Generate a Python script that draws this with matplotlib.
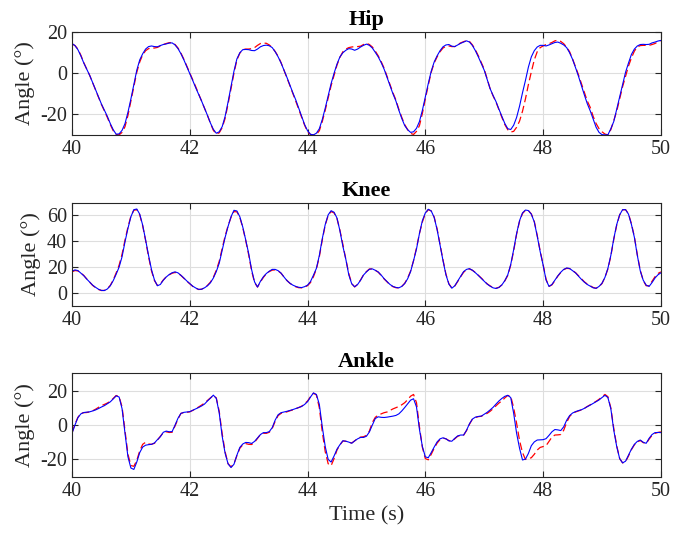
import numpy as np
import matplotlib
matplotlib.use("Agg")
import matplotlib.pyplot as plt

plt.rcParams["font.family"] = ["Liberation Serif", "DejaVu Serif"]
plt.rcParams["axes.unicode_minus"] = False

# joint angles (deg), sampled every 0.05 s from 40 s to 50 s
hip_measured = [
    14.5, 13.5, 11.5, 8.5, 5, 2, -1, -4.5, -8, -11.5,
    -15, -18, -21, -24.5, -27.5, -29.7, -29.5, -27.8, -24.5, -19,
    -12.5, -5.5, 1.5, 6.5, 9.5, 11.8, 13, 13.3, 13, 12.9,
    13.5, 14, 14.3, 14.7, 14.8, 13.8, 12, 9.5, 6.5, 3.2,
    0, -3.5, -7, -10.2, -13.5, -17, -20.5, -24.2, -27.3, -29.2,
    -28.5, -26, -21, -14, -6.5, 1, 7, 10, 11.5, 11.6,
    11.5, 11.1, 11, 11.8, 12.9, 13.5, 13.7, 13.4, 12.5, 10.5,
    8, 5, 1.5, -2, -5.8, -9.5, -13, -17, -21, -25,
    -28, -29.7, -30, -29.2, -27, -22.5, -17, -11, -5, 0,
    4.5, 8, 10, 11.2, 12, 11.8, 11.2, 11.8, 12.8, 13.6,
    14.2, 13.6, 12.3, 10.2, 8, 5.2, 2, -2, -6, -10,
    -13.5, -18, -22, -25.5, -27.5, -28.8, -28.5, -26.8, -23.5, -18,
    -11.5, -5, 1, 5.5, 8.5, 11, 12.9, 13.8, 14, 13.2,
    13, 13.8, 14.6, 15.2, 15.8, 15.2, 13.5, 11, 8, 4.7,
    1.5, -3, -7.5, -10.8, -13.8, -17.5, -21, -24.5, -27, -27.4,
    -25.3, -21.5, -16, -9.5, -3.5, 3, 8, 11, 12.8, 13.6,
    13.6, 13.3, 13.8, 14.4, 15, 15.2, 14.6, 13.8, 12.5, 10,
    6.8, 2.8, -1.4, -6, -10.5, -14.8, -18.3, -22.3, -26.3, -28.8,
    -29.9, -30, -30, -27, -23.5, -17.5, -11.3, -5.5, 0.5, 5,
    9.2, 11.8, 13.3, 14, 14.1, 14, 14.1, 14.8, 15.2, 15.7,
    16,
]
hip_estimated = [
    14.3, 13.5, 11.8, 8.8, 5.2, 2, -1, -4.6, -8.2, -11.7,
    -15.2, -18.3, -21.5, -25, -28, -29.8, -30, -28.8, -26, -20.5,
    -13.5, -6.5, 0.5, 5.5, 9, 11, 12, 12.3, 12.3, 12.6,
    13.3, 14, 14.5, 14.9, 15, 14, 12.3, 9.8, 6.8, 3.5,
    0.3, -3.2, -6.5, -10, -13.5, -17, -20.5, -24.3, -27.8, -29.6,
    -29, -26.5, -22, -15, -7.5, 0, 6.5, 9.8, 11.5, 11.8,
    11.8, 12, 12.5, 13.6, 14.5, 14.7, 14.6, 13.8, 12.5, 10.6,
    8.3, 5.2, 1.5, -2.2, -6, -9.8, -13.5, -17.5, -21.5, -25.3,
    -28.5, -29.9, -30, -29.8, -28, -23.5, -18, -12, -6, -1,
    4, 7.8, 10.5, 11.8, 12.5, 12.8, 13, 13, 13.2, 14,
    14.6, 14, 12.8, 10.8, 8.5, 5.7, 2.5, -1.5, -5.5, -9.5,
    -13, -17.5, -21.5, -25, -27.5, -29.3, -29.8, -28.3, -25.5, -19.5,
    -12.5, -5.8, 0.5, 5, 8, 10.5, 12.3, 13.1, 13.3, 13,
    13, 14, 14.8, 15.4, 15.9, 15.5, 13.8, 11.4, 8.5, 5.2,
    2, -2.8, -7.5, -11, -14, -17.8, -21.5, -25, -27.5, -28.6,
    -28.3, -26.3, -23.3, -18.5, -12.5, -5.5, 0.7, 6.5, 10.5, 12.5,
    13.3, 14, 14.4, 15, 15.8, 16.1, 15.5, 14.4, 12.7, 10.5,
    7, 3.2, -0.7, -5, -9.3, -13.5, -16.6, -21, -24.5, -27,
    -28.5, -29.6, -30, -27.5, -23, -18.5, -12.5, -6.5, -1.5, 3.5,
    7.5, 10.8, 12.8, 13.5, 13.6, 13.6, 13.6, 14, 14.5, 15.3,
    16,
]

knee_measured = [
    16.8, 17.8, 17.3, 15.3, 13.3, 10.7, 8.3, 6.0, 4.3, 2.8,
    1.9, 1.8, 3.0, 5.5, 9.5, 14.5, 20, 28, 39.6, 50,
    59, 64.5, 65, 61, 52.5, 41, 29, 18, 10, 5.5,
    6.5, 9.8, 12.3, 14.2, 15.6, 16.3, 15.5, 13.6, 11.5, 9.2,
    7.2, 5.2, 3.8, 2.7, 2.8, 3.9, 5.5, 7.8, 11.5, 16.5,
    23, 33, 43, 51.5, 59, 64, 63.5, 59, 51, 41,
    30.5, 18, 8.5, 4.5, 9, 12.5, 15, 16.8, 18.2, 18.2,
    17.2, 15.3, 12.3, 9.5, 7.5, 6.0, 5.0, 4.3, 4.1, 4.8,
    6.0, 8.8, 13.7, 19, 29, 42, 53, 60.5, 63.7, 62.5,
    58, 48, 36, 26, 14, 7, 4.7, 6.5, 9.8, 13.8,
    16.3, 18.3, 18.6, 17.5, 16.2, 13.8, 11.0, 8.8, 6.5, 5.0,
    4.2, 3.9, 5, 7.2, 11, 16.5, 25, 34, 46, 56,
    62, 64.8, 63.5, 58.5, 49, 37, 25, 14, 6.8, 3.6,
    5.5, 9.2, 13, 16.5, 18.2, 18.8, 17.5, 15.6, 13.5, 11.2,
    9.0, 6.8, 5.2, 3.9, 3.4, 4.2, 6.2, 9.5, 14, 22,
    33.5, 46, 56, 62, 64.2, 63.8, 61, 55, 44, 32,
    21.5, 10, 5, 6.5, 9.8, 13.2, 16.0, 18.2, 19.3, 18.9,
    17.2, 15.5, 13, 10.5, 8.3, 6.5, 5.2, 3.9, 3.5, 5.0,
    7.5, 12, 19, 29, 42, 53, 60.5, 64.5, 64.5, 61,
    53, 43, 29, 17, 9.8, 6, 5, 8, 11.5, 14,
    15.5,
]
knee_estimated = [
    16.3, 17.3, 17.0, 15.5, 13.5, 10.8, 8.3, 5.8, 4.0, 2.6,
    1.8, 1.9, 3.2, 5.8, 10, 15.5, 21.5, 30, 41, 51,
    59.5, 64, 64.5, 60.5, 52, 40.5, 28, 17, 9.5, 5.8,
    7, 10, 12.5, 14, 15.2, 15.8, 15.2, 13.5, 11.2, 9,
    7, 5, 3.6, 2.6, 2.8, 4, 5.8, 8.3, 12, 17.5,
    24.5, 34.5, 44, 52, 58.5, 63, 62.8, 58.5, 50.5, 40.5,
    29.5, 17, 8, 4.5, 8.5, 12, 14.8, 16.5, 17.6, 17.8,
    17, 15.2, 12.3, 9.6, 7.4, 5.8, 4.7, 4.0, 3.9, 4.5,
    5.6, 8, 12.5, 18.5, 28, 41, 52.5, 60, 63, 62,
    57.5, 48.5, 37.5, 26, 15, 7.2, 4.6, 6.6, 10, 14,
    16.5, 18.5, 18.6, 17.5, 16, 13.5, 10.8, 8.5, 6.2, 4.8,
    4.0, 3.8, 5, 7.5, 11.5, 17, 25, 35, 46, 55,
    61.5, 64.5, 63.5, 58.8, 49.5, 37.5, 25.5, 14.5, 7, 3.8,
    5.3, 8.8, 12.5, 16, 17.8, 18.5, 17.5, 15.8, 13.7, 11.5,
    9.2, 7, 5.4, 4.2, 3.6, 4.3, 6.2, 9.3, 13.5, 21.5,
    32.5, 45.5, 55.5, 61.5, 64, 63.8, 61.2, 55.5, 44.5, 32.5,
    22, 10.5, 5, 6.2, 9.5, 13, 15.8, 18, 19, 18.8,
    17.3, 15.7, 13.3, 10.8, 8.6, 6.8, 5.5, 4.2, 3.6, 4.8,
    7.2, 12, 18.5, 28.5, 41.5, 52.5, 60.5, 64.3, 64.5, 61.3,
    53.5, 43.5, 29.5, 17.5, 9.6, 5.5, 5.5, 9, 12.5, 15,
    16.3,
]

ankle_measured = [
    -4.8, 0, 4.3, 6.5, 7.3, 7.5, 7.7, 8.2, 8.8, 9.6,
    10.5, 11.3, 12.4, 13.5, 15.2, 17, 16.3, 9.5, -4.8, -18.5,
    -25, -25.8, -21.5, -16, -12.8, -11.7, -11.4, -11.2, -10.4, -8.5,
    -6.8, -4.2, -3.5, -3.9, -3.8, 0, 4, 6.8, 7.4, 7.6,
    7.8, 8.6, 9.4, 10.2, 11.1, 12.2, 14, 15.6, 17.4, 15.5,
    7, -6.5, -16.4, -22.5, -24.7, -22.8, -17.5, -13, -11, -10.1,
    -10.2, -10.7, -9.5, -7.5, -5.5, -4.4, -4.4, -3.8, -1.5, 2.9,
    6, 7.2, 7.6, 8, 8.5, 9, 9.6, 10.2, 10.8, 12,
    13.6, 16.3, 18.7, 17.8, 12, -1, -12.5, -20, -21.5, -18,
    -14, -11.4, -9.1, -9.4, -9.9, -10.6, -9.2, -8, -7.2, -7.2,
    -6.5, -4, 0, 3.8, 4.8, 4.5, 4.4, 4.6, 4.9, 5.2,
    5.6, 6.5, 8.2, 10.2, 12.3, 14.5, 15.3, 10.5, -2.5, -12.5,
    -18.5, -19, -16, -12.8, -9.8, -8, -7.4, -8, -9.2, -9.4,
    -7.7, -6.3, -5.8, -5.8, -3, 0.8, 3.5, 4.6, 5, 5.2,
    6.3, 7.4, 8.8, 10.3, 12.2, 14, 15.5, 16.7, 17.3, 16,
    6.8, -4.8, -13.5, -20.3, -19.8, -16.5, -12, -9.8, -8.7, -8.6,
    -8.5, -7.9, -6, -3.9, -2.6, -2.8, -3.2, -1, 2.8, 5.5,
    7, 7.8, 8.4, 8.9, 9.7, 10.7, 11.6, 12.6, 13.6, 14.6,
    16, 17.3, 16, 9.5, -3, -12.5, -19.5, -22, -21, -17.5,
    -14, -11.2, -9.5, -8.7, -10, -10.6, -7.7, -5.5, -4.4, -4.3,
    -4.4,
]
ankle_estimated = [
    -4.5, 0.5, 4.5, 6.8, 7.2, 7.3, 7.6, 8.3, 9.2, 10.3,
    11.3, 12.0, 12.8, 13.8, 15.5, 17.2, 16.5, 10.5, -3.5, -17,
    -23.5, -24, -20.5, -15, -11.2, -10, -11, -11.2, -10.6, -8.8,
    -6.5, -4.5, -3.9, -4.3, -4.2, -0.5, 3.5, 6.8, 7.2, 7.4,
    7.7, 8.5, 9.5, 10.5, 11.6, 12.8, 14.3, 15.8, 17.2, 15.8,
    8, -5, -15.5, -22.5, -24.3, -22.5, -17.8, -13.5, -11.5, -10.8,
    -11.2, -11.3, -10, -7.8, -5.5, -4.8, -4.8, -4.2, -2, 2.2,
    5.5, 6.8, 7.2, 7.7, 8.3, 8.8, 9.5, 10.2, 11, 12.4,
    14, 16.5, 18.5, 17.5, 10, -4, -15.5, -22.5, -23.6, -19.5,
    -14.5, -11.5, -9.3, -9.4, -10, -10.4, -9.2, -7.8, -7, -6.8,
    -6, -3.5, 1.5, 4.5, 5.8, 6.5, 7.2, 7.6, 8.5, 9.4,
    10.1, 10.8, 11.8, 13, 14.8, 16.8, 17.8, 13, -1, -13,
    -19.5, -20.2, -17, -13.5, -10.5, -8.4, -7.6, -8, -9, -9.4,
    -8, -6.5, -6, -5.9, -3.2, 0.5, 3.5, 4.4, 4.9, 5.1,
    6, 6.8, 8, 9.5, 11.2, 12.8, 14, 15.8, 17.2, 16.8,
    10, 1, -9, -16, -20, -19.5, -19, -17, -14.5, -13,
    -12.5, -12, -9.5, -7, -5.8, -5.7, -5.5, -3, 1.5, 5,
    6.8, 7.6, 8.2, 8.8, 9.7, 10.8, 11.8, 12.8, 13.8, 15,
    16.4, 17.8, 16.5, 10, -2, -12, -19.5, -22, -21.3, -18,
    -14.3, -11.5, -9.8, -9, -10.2, -10.8, -8.2, -6, -4.8, -4.3,
    -3.9,
]

panels = [
    ("Hip", hip_measured, hip_estimated, (-30, 20), [-20, 0, 20]),
    ("Knee", knee_measured, knee_estimated, (-10, 70), [0, 20, 40, 60]),
    ("Ankle", ankle_measured, ankle_estimated, (-30, 30), [-20, 0, 20]),
]
rects = [
    [0.107, 0.753, 0.875, 0.188],
    [0.107, 0.440, 0.875, 0.189],
    [0.107, 0.127, 0.875, 0.189],
]
dark = "#262626"

fig = plt.figure(figsize=(6.73, 5.46), dpi=100)
for (name, measured, estimated, ylim, yticks), rect in zip(panels, rects):
    ax = fig.add_axes(rect)
    t = np.linspace(40, 50, len(measured))
    ax.plot(t, estimated, color="r", ls="--", dashes=(6, 3), lw=0.9)
    ax.plot(t, measured, color="b", lw=0.8)
    ax.set_xlim(40, 50)
    ax.set_ylim(*ylim)
    ax.set_xticks([40, 42, 44, 46, 48, 50])
    ax.set_yticks(yticks)
    ax.grid(True, color="#dedede", lw=0.8)
    ax.set_axisbelow(True)
    ax.tick_params(direction="in", top=True, right=True, length=4, width=0.8,
                   colors=dark, labelsize=14.5)
    for spine in ax.spines.values():
        spine.set_color(dark)
        spine.set_linewidth(0.8)
    ax.set_ylabel("Angle (°)", fontsize=16, color=dark, labelpad=4)
    ax.set_title(name, fontsize=16, fontweight="bold", pad=5)
    if name == "Ankle":
        ax.set_xlabel("Time (s)", fontsize=16, color=dark, labelpad=4)

fig.savefig("out.png", dpi=100)
